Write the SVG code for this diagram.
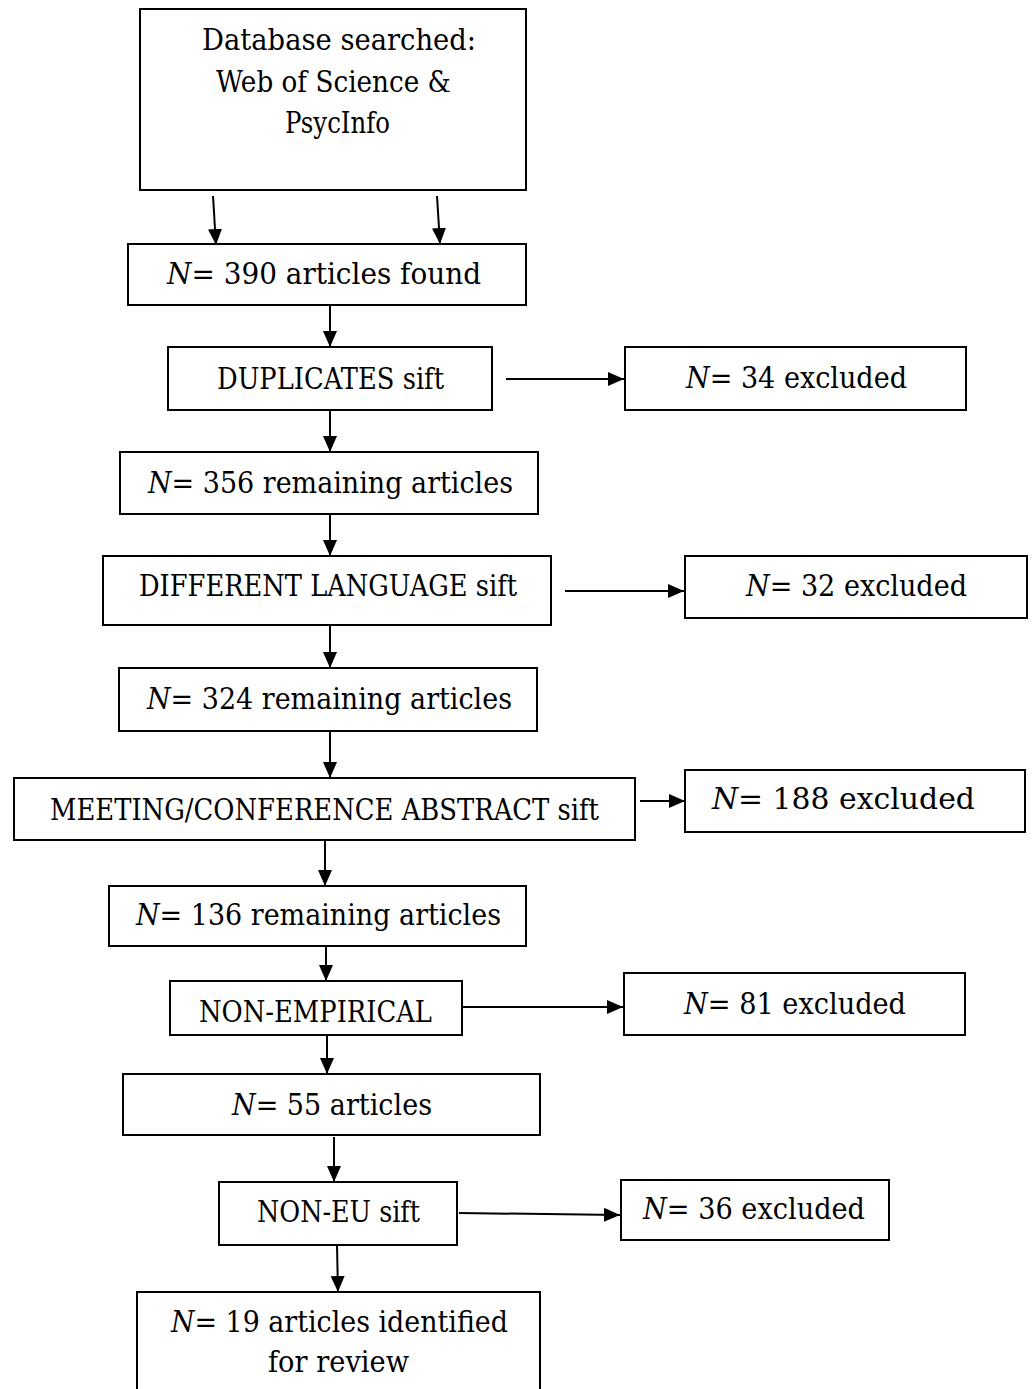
<svg xmlns="http://www.w3.org/2000/svg" width="1033" height="1389" viewBox="0 0 1033 1389">
<style>
  .box { fill: #fff; stroke: #000; stroke-width: 2; }
  .t { font-family: "DejaVu Serif", "Liberation Serif", serif; font-size: 29px; fill: #000; text-anchor: middle; }
  .i { font-style: italic; }
  .c { stroke: #000; stroke-width: 2; fill: none; marker-end: url(#ah); }
</style>
<defs>
  <marker id="ah" markerUnits="userSpaceOnUse" markerWidth="17" markerHeight="15" refX="16" refY="7" orient="auto">
    <path d="M0,0 L16,7 L0,14 z" fill="#000"/>
  </marker>
</defs>
<rect width="1033" height="1389" fill="#fff"/>

<g id="connectors">
  <line class="c" x1="213" y1="196" x2="216" y2="245"/>
  <line class="c" x1="437" y1="196" x2="440" y2="244"/>
  <line class="c" x1="330" y1="305" x2="330" y2="347"/>
  <line class="c" x1="506" y1="379" x2="624" y2="379"/>
  <line class="c" x1="330" y1="410" x2="330" y2="452"/>
  <line class="c" x1="330" y1="514" x2="330" y2="556"/>
  <line class="c" x1="565" y1="591" x2="684" y2="591"/>
  <line class="c" x1="330" y1="625" x2="330" y2="668"/>
  <line class="c" x1="330" y1="731" x2="330" y2="778"/>
  <line class="c" x1="640" y1="801" x2="685" y2="801"/>
  <line class="c" x1="325" y1="840" x2="325" y2="886"/>
  <line class="c" x1="326" y1="946" x2="326" y2="981"/>
  <line class="c" x1="462" y1="1007" x2="623" y2="1007"/>
  <line class="c" x1="327" y1="1035" x2="327" y2="1074"/>
  <line class="c" x1="334" y1="1137" x2="334" y2="1182"/>
  <line class="c" x1="459" y1="1213" x2="620" y2="1215"/>
  <line class="c" x1="337" y1="1245" x2="338" y2="1292"/>
</g>

<g id="n-database">
  <rect class="box" x="140" y="9" width="386" height="181"/>
  <text class="t" x="339" y="50" textLength="274" lengthAdjust="spacingAndGlyphs">Database searched:</text>
  <text class="t" x="333.5" y="92" textLength="235" lengthAdjust="spacingAndGlyphs">Web of Science &amp;</text>
  <text class="t" x="337.5" y="133" textLength="105" lengthAdjust="spacingAndGlyphs">PsycInfo</text>
</g>
<g id="n-390">
  <rect class="box" x="128" y="244" width="398" height="61"/>
  <text class="t" x="324" y="284" textLength="314" lengthAdjust="spacingAndGlyphs"><tspan class="i">N</tspan>= 390 articles found</text>
</g>
<g id="n-duplicates">
  <rect class="box" x="168" y="347" width="324" height="63"/>
  <text class="t" x="330.5" y="389" textLength="227" lengthAdjust="spacingAndGlyphs">DUPLICATES sift</text>
</g>
<g id="n-34">
  <rect class="box" x="625" y="347" width="341" height="63"/>
  <text class="t" x="796.5" y="388" textLength="221" lengthAdjust="spacingAndGlyphs"><tspan class="i">N</tspan>= 34 excluded</text>
</g>
<g id="n-356">
  <rect class="box" x="120" y="452" width="418" height="62"/>
  <text class="t" x="330.5" y="493" textLength="365" lengthAdjust="spacingAndGlyphs"><tspan class="i">N</tspan>= 356 remaining articles</text>
</g>
<g id="n-language">
  <rect class="box" x="103" y="556" width="448" height="69"/>
  <text class="t" x="328" y="596" textLength="378" lengthAdjust="spacingAndGlyphs">DIFFERENT LANGUAGE sift</text>
</g>
<g id="n-32">
  <rect class="box" x="685" y="556" width="342" height="62"/>
  <text class="t" x="856.5" y="596" textLength="221" lengthAdjust="spacingAndGlyphs"><tspan class="i">N</tspan>= 32 excluded</text>
</g>
<g id="n-324">
  <rect class="box" x="119" y="668" width="418" height="63"/>
  <text class="t" x="329.5" y="709" textLength="365" lengthAdjust="spacingAndGlyphs"><tspan class="i">N</tspan>= 324 remaining articles</text>
</g>
<g id="n-meeting">
  <rect class="box" x="14" y="778" width="621" height="62"/>
  <text class="t" x="324.5" y="820" textLength="549" lengthAdjust="spacingAndGlyphs">MEETING/CONFERENCE ABSTRACT sift</text>
</g>
<g id="n-188">
  <rect class="box" x="685" y="770" width="340" height="62"/>
  <text class="t" x="843.5" y="809" textLength="263" lengthAdjust="spacingAndGlyphs"><tspan class="i">N</tspan>= 188 excluded</text>
</g>
<g id="n-136">
  <rect class="box" x="109" y="886" width="417" height="60"/>
  <text class="t" x="318.5" y="925" textLength="365" lengthAdjust="spacingAndGlyphs"><tspan class="i">N</tspan>= 136 remaining articles</text>
</g>
<g id="n-nonempirical">
  <rect class="box" x="170" y="981" width="292" height="54"/>
  <text class="t" x="315.5" y="1022" textLength="233" lengthAdjust="spacingAndGlyphs">NON-EMPIRICAL</text>
</g>
<g id="n-81">
  <rect class="box" x="624" y="973" width="341" height="62"/>
  <text class="t" x="795" y="1014" textLength="222" lengthAdjust="spacingAndGlyphs"><tspan class="i">N</tspan>= 81 excluded</text>
</g>
<g id="n-55">
  <rect class="box" x="123" y="1074" width="417" height="61"/>
  <text class="t" x="332" y="1115" textLength="200" lengthAdjust="spacingAndGlyphs"><tspan class="i">N</tspan>= 55 articles</text>
</g>
<g id="n-noneu">
  <rect class="box" x="219" y="1182" width="238" height="63"/>
  <text class="t" x="338.5" y="1222" textLength="163" lengthAdjust="spacingAndGlyphs">NON-EU sift</text>
</g>
<g id="n-36">
  <rect class="box" x="621" y="1180" width="268" height="60"/>
  <text class="t" x="754" y="1219" textLength="222" lengthAdjust="spacingAndGlyphs"><tspan class="i">N</tspan>= 36 excluded</text>
</g>
<g id="n-19">
  <rect class="box" x="137" y="1292" width="403" height="104"/>
  <text class="t" x="339.5" y="1332" textLength="337" lengthAdjust="spacingAndGlyphs"><tspan class="i">N</tspan>= 19 articles identified</text>
  <text class="t" x="338.5" y="1372" textLength="141" lengthAdjust="spacingAndGlyphs">for review</text>
</g>
</svg>
